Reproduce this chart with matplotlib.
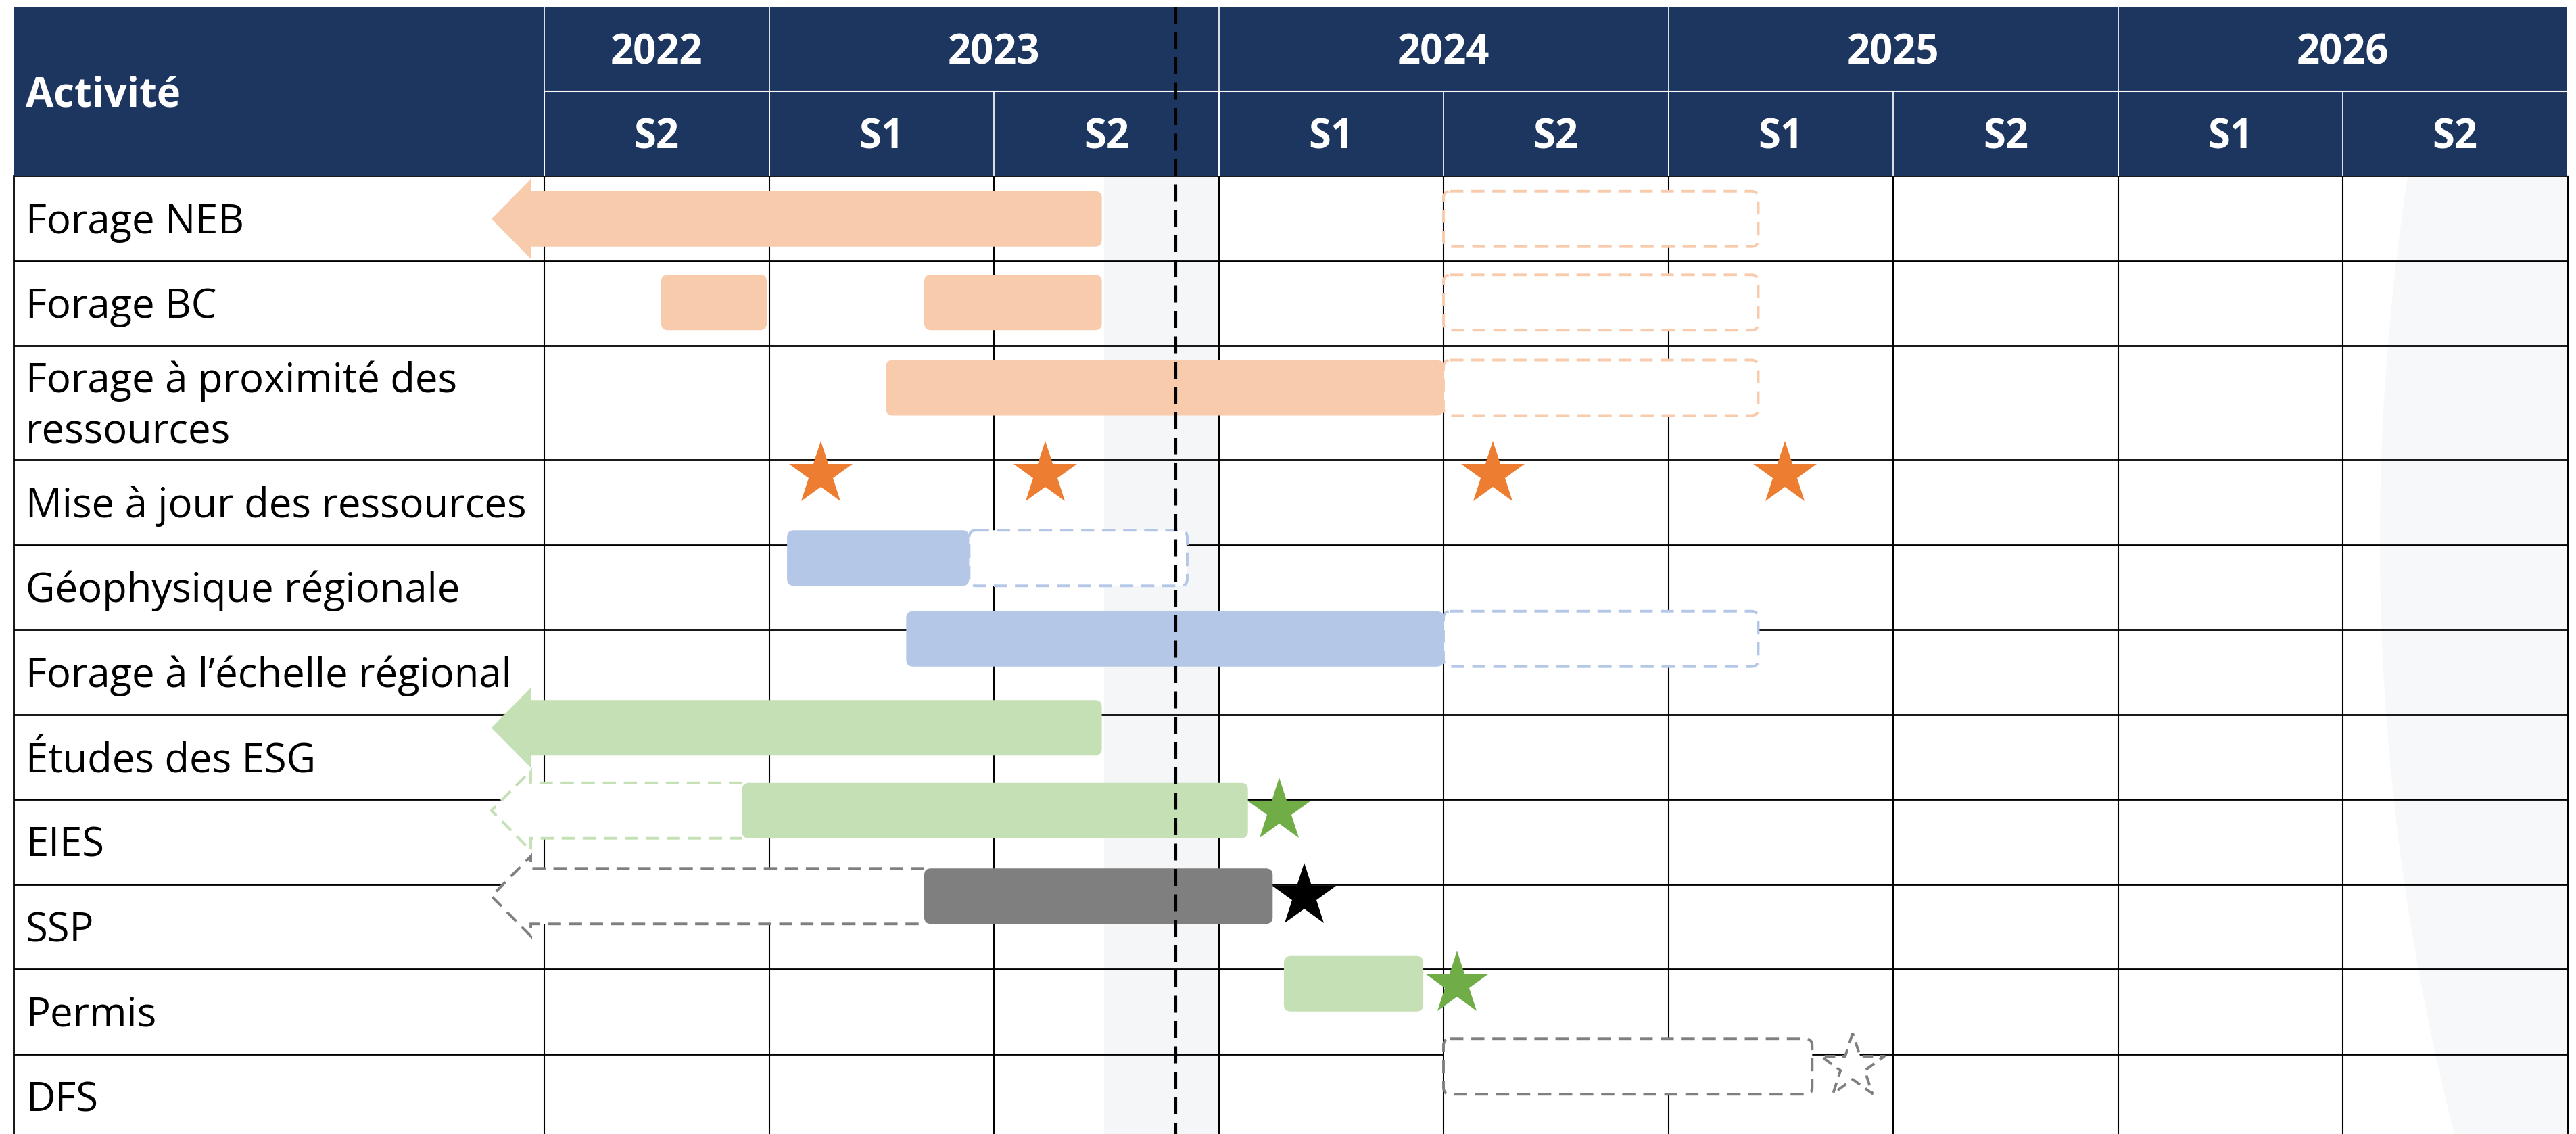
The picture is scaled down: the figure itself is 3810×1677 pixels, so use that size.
import matplotlib
matplotlib.use("Agg")
import matplotlib.pyplot as plt
from matplotlib.patches import FancyBboxPatch, Polygon, Rectangle, Ellipse

plt.rcParams['font.family'] = ['Open Sans', 'DejaVu Sans']

# 1. données du planning
activites = [
    "Forage NEB",
    "Forage BC",
    "Forage à proximité des\nressources",
    "Mise à jour des ressources",
    "Géophysique régionale",
    "Forage à l’échelle régional",
    "Études des ESG",
    "EIES",
    "SSP",
    "Permis",
    "DFS",
]
annees = ["2022", "2023", "2024", "2025", "2026"]
nb_semestres = [1, 2, 2, 2, 2]
semestres = ["S2", "S1", "S2", "S1", "S2", "S1", "S2", "S1", "S2"]
aujourdhui = 2.81   # trait pointillé vertical (en semestres depuis 2022 S2)

# barres pleines : (ligne, début, fin, couleur)
barres = [
    (1, 0.52, 0.99, "orange"),
    (1, 1.69, 2.48, "orange"),
    (2, 1.52, 4.00, "orange"),
    (4, 1.08, 1.89, "bleu"),
    (5, 1.61, 4.00, "bleu"),
    (7, 0.88, 3.13, "vert"),
    (8, 1.69, 3.24, "gris"),
    (9, 3.29, 3.91, "vert"),
]
# barres prévues (contour pointillé)
prevues = [
    (0, 4.00, 5.40, "orange"),
    (1, 4.00, 5.40, "orange"),
    (2, 4.00, 5.40, "orange"),
    (4, 1.89, 2.86, "bleu"),
    (5, 4.00, 5.40, "bleu"),
    (10, 4.00, 5.64, "gris"),
]
# flèches : activité commencée avant 2022 S2 (ligne, fin, couleur)
fleches = [(0, 2.48, "orange"), (6, 2.48, "vert")]
fleches_prevues = [(7, 0.88, "vert"), (8, 1.69, "gris")]
# jalons (étoiles)
jalons = [
    (3, 1.23, "etoile_orange"),
    (3, 2.23, "etoile_orange"),
    (3, 4.22, "etoile_orange"),
    (3, 5.52, "etoile_orange"),
    (7, 3.27, "etoile_verte"),
    (8, 3.38, "noir"),
    (9, 4.06, "etoile_verte"),
]
jalons_prevus = [(10, 5.82, "gris")]

couleurs = {
    "orange": "#F8CBAD",
    "bleu": "#B4C7E7",
    "vert": "#C5E0B4",
    "gris": "#7F7F7F",
    "etoile_orange": "#ED7D31",
    "etoile_verte": "#70AD47",
    "noir": "#000000",
}
bleu_entete = "#1D3660"

# 2. mise en page (pixels de l'image)
W, H = 3810, 1677
col_px = 332.5
x_col0 = 805
x_gauche = 20
y_haut, y_milieu, y_bas_entete = 10, 135, 260
hauteurs = [125.5] * len(activites)
hauteurs[2] = 169
decalage = [1, -1, -22, -42, -43, -49, -43, -46, -45, -41, -44]
demi_barre = 41
demi_tete = 59
pointe, base = -0.235, -0.06
taille_police = 43


def u(px):
    return (px - x_col0) / col_px


hauts = [y_bas_entete]
for h in hauteurs:
    hauts.append(hauts[-1] + h)
centres = [(hauts[i] + hauts[i + 1]) / 2 for i in range(len(activites))]
cy = [centres[i] + decalage[i] for i in range(len(activites))]
ncol = len(semestres)

fig = plt.figure(figsize=(W / 100, H / 100), dpi=100)
ax = fig.add_axes([0, 0, 1, 1])
ax.set_xlim(u(0), u(W))
ax.set_ylim(H, 0)
ax.axis("off")

# fond légèrement grisé
ax.add_patch(Rectangle((u(1633), y_bas_entete), u(1802) - u(1633), H, color="#F5F6F8", lw=0, zorder=0))
cercle = Ellipse((u(7071), 800), 2 * 3551 / col_px, 2 * 3551, color="#F7F8FA", lw=0, zorder=0)
ax.add_patch(cercle)
cercle.set_clip_path(Rectangle((0, y_bas_entete), ncol, H, transform=ax.transData))

# grille du tableau
for y in hauts:
    ax.plot([u(x_gauche), ncol], [y, y], color="black", lw=2, zorder=1, solid_capstyle="butt")
for i in range(ncol + 1):
    ax.plot([i, i], [y_bas_entete, H], color="black", lw=1.5, zorder=1)
ax.plot([u(x_gauche), u(x_gauche)], [y_bas_entete, H], color="black", lw=2, zorder=1)

# en-tête
ax.add_patch(Rectangle((u(x_gauche), y_haut), ncol - u(x_gauche), y_bas_entete - y_haut,
                       color=bleu_entete, lw=0, zorder=5))
ax.plot([0, ncol], [y_milieu, y_milieu], color="white", lw=1.5, zorder=6)
ax.plot([0, 0], [y_haut, y_bas_entete], color="white", lw=1.2, zorder=6)
debut = 0
for an, n in zip(annees, nb_semestres):
    ax.text(debut + n / 2, (y_haut + y_milieu) / 2 + 22, an, color="white", fontsize=taille_police,
            fontweight="bold", ha="center", va="baseline", zorder=7)
    debut += n
    ax.plot([debut, debut], [y_haut, y_bas_entete], color="white", lw=1.2, zorder=6)
for i, s in enumerate(semestres):
    ax.text(i + 0.5, (y_milieu + y_bas_entete) / 2 + 22, s, color="white", fontsize=taille_police,
            fontweight="bold", ha="center", va="baseline", zorder=7)
    ax.plot([i, i], [y_milieu, y_bas_entete], color="white", lw=1.2, zorder=6)
ax.text(u(38), (y_haut + y_bas_entete) / 2 + 22, "Activité", color="white", fontsize=taille_police,
        fontweight="bold", ha="left", va="baseline", zorder=7)

# libellés des activités
for i, nom in enumerate(activites):
    lignes = nom.split("\n")
    for k, txt in enumerate(lignes):
        yb = centres[i] + 22 + (k - (len(lignes) - 1) / 2) * 76
        ax.text(u(38), yb, txt, fontsize=taille_police, ha="left", va="baseline", zorder=7)


def barre(x0, x1, y, **kw):
    p = FancyBboxPatch((x0, y - demi_barre), x1 - x0, 2 * demi_barre,
                       boxstyle="round,pad=0,rounding_size=0.03", mutation_aspect=col_px, **kw)
    ax.add_patch(p)


pointille = (0, (5, 3))

for r, a, b, c in prevues:
    barre(a, b, cy[r], facecolor="white", edgecolor=couleurs[c], lw=2.8, linestyle=pointille, zorder=2)

for r, fin, c in fleches_prevues:
    y = cy[r]
    pts = [(fin, y - demi_barre), (base, y - demi_barre), (base, y - demi_tete), (pointe, y),
           (base, y + demi_tete), (base, y + demi_barre), (fin, y + demi_barre)]
    ax.add_patch(Polygon(pts, closed=False, facecolor="white", edgecolor=couleurs[c], lw=2.8,
                         linestyle=pointille, zorder=2))

for r, a, b, c in barres:
    barre(a, b, cy[r], facecolor=couleurs[c], lw=0, zorder=3)

for r, fin, c in fleches:
    y = cy[r]
    barre(base - 0.04, fin, y, facecolor=couleurs[c], lw=0, zorder=3)
    ax.add_patch(Polygon([(pointe, y), (base, y - demi_tete), (base, y + demi_tete)],
                         facecolor=couleurs[c], lw=0, zorder=3))

for r, x, c in jalons:
    ax.plot(x, cy[r], marker="*", ms=71, color=couleurs[c], mew=0, linestyle="none", zorder=4)
for r, x, c in jalons_prevus:
    ax.scatter([x], [cy[r]], marker="*", s=71 ** 2, facecolors="white", edgecolors=couleurs[c],
               linewidths=2.8, linestyles=[(0, (4, 2.5))], zorder=4)

# date du jour
ax.plot([aujourdhui, aujourdhui], [y_haut, H], color="black", lw=3, linestyle=(0, (6, 3)), zorder=10)

fig.savefig("out.png", dpi=100, facecolor="white")
